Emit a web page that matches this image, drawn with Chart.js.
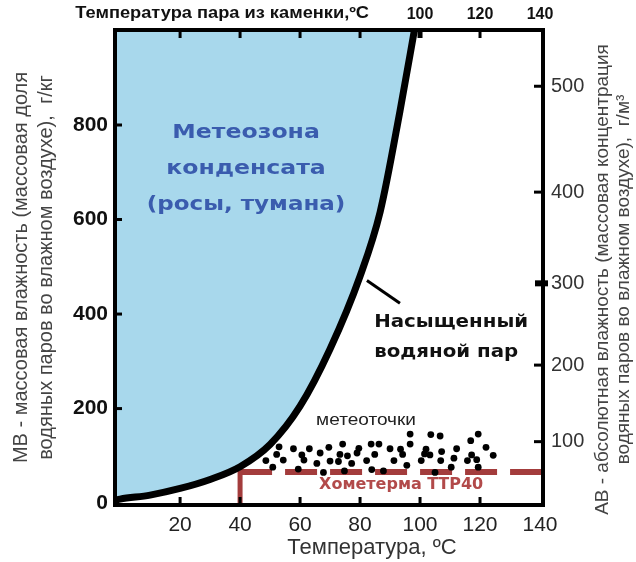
<!DOCTYPE html>
<html>
<head>
<meta charset="utf-8">
<script src="https://cdn.jsdelivr.net/npm/chart.js@4.4.1/dist/chart.umd.min.js"></script>
<style>
  html, body { margin: 0; padding: 0; background: #fff; }
</style>
</head>
<body>
<canvas id="myChart" width="636" height="562"></canvas>
<script>
// saturated water vapour: temperature (°C) -> MV (g/kg)
const curveT  = [-1.7, 0, 10, 20, 30, 40, 50, 60, 70, 80, 86.7, 93.3, 98.3]
const curveMV = [6, 8.5, 17, 31, 50, 77, 124, 205, 326, 480, 616, 829, 1007]

// "метеоточки" (temperature, MV)
const dotT  = [96.7, 103.6, 106.7, 119.4, 116.9, 53, 57.8, 63.1, 69.6, 74.2, 79.6, 83.7, 86.3, 90, 96.7, 102, 107.2, 112.2, 122,
               52.2, 60.6, 66.7, 73.3, 75.8, 84.9, 94.2, 103.3, 117.2, 124.4, 48.6, 54.4, 61.3, 70, 72.8, 77.2, 82.2, 91.3,
               100.4, 106.9, 111.3, 115.8, 118.9, 50.9, 59.4, 65.6, 74.8, 83.9, 87.8, 95.6, 110.4, 119.4, 67.8, 105, 79, 93.5, 101.5]
const dotMV = [146, 145, 142, 146, 132, 119, 115, 115, 118, 125, 116, 125, 125, 115, 125, 114, 109, 115, 118,
               103, 102, 106, 103, 100, 103, 103, 102, 102, 101, 90, 91, 91, 89, 88, 84, 90, 90,
               90, 90, 95, 90, 92, 76, 72, 84, 68, 71, 68, 80, 76, 76, 65, 65, 106, 114, 104]

// isotherm TTP40
const isoT = 40
const isoMV = 66

// axes
const xTicks = [20, 40, 60, 80, 100, 120, 140]
const topLabelled = [100, 120, 140]
const yTicks = [0, 200, 400, 600, 800]
// right axis (АВ, g/m3) is not linear in MV: positions given in MV units
const avLabels = [100, 200, 300, 400, 500]
const avAtMV   = [130, 292, 465, 658, 882]

const X_MIN = -1.7, X_MAX = 141, Y_MIN = -4, Y_MAX = 1001
const FONT = 'Arial, "Liberation Sans", sans-serif'
const WIDE = '"DejaVu Sans", Verdana, sans-serif'

const frame = {
  id: 'frame',
  afterDatasetsDraw(chart) {
    const {ctx, chartArea: a, scales} = chart
    ctx.save()
    ctx.strokeStyle = '#000'
    ctx.lineCap = 'butt'

    function tick(x1, y1, x2, y2, w) {
      ctx.lineWidth = w
      ctx.beginPath(); ctx.moveTo(x1, y1); ctx.lineTo(x2, y2); ctx.stroke()
    }
    // inward ticks
    xTicks.forEach(function(v) {
      if (v >= 140) return
      const px = scales.x.getPixelForValue(v)
      tick(px, a.bottom, px, a.bottom - 8, 3)
      tick(px, a.top, px, a.top + 8, v == 100 ? 5 : 3)
    })
    yTicks.forEach(function(v) {
      if (v == 0) return
      const py = scales.y.getPixelForValue(v)
      tick(a.left, py, a.left + 7, py, 3)
    })
    avAtMV.forEach(function(v, i) {
      const py = scales.y.getPixelForValue(v)
      if (avLabels[i] == 300) tick(a.right + 5, py, a.right - 8, py, 6)
      else tick(a.right, py, a.right - 9, py, 3)
    })

    // frame
    ctx.lineWidth = 4
    ctx.strokeRect(a.left, a.top, a.right - a.left, a.bottom - a.top)

    function note(text, x, y, font, color, align, sx) {
      ctx.save()
      ctx.translate(x, y)
      ctx.scale(sx, 1)
      ctx.font = font
      ctx.fillStyle = color
      ctx.textAlign = align
      ctx.textBaseline = 'middle'
      ctx.fillText(text, 0, 0)
      ctx.restore()
    }
    function dnote(text, T, MV, font, color, align, sx) {
      note(text, scales.x.getPixelForValue(T), scales.y.getPixelForValue(MV), font, color, align, sx)
    }
    const blue = '#3a5cae'
    dnote('Метеозона', 42, 783, 'bold 20px ' + WIDE, blue, 'center', 1.18)
    dnote('конденсата', 42, 707, 'bold 20px ' + WIDE, blue, 'center', 1.18)
    dnote('(росы, тумана)', 42, 631, 'bold 20px ' + WIDE, blue, 'center', 1.15)
    dnote('Насыщенный', 84.7, 383, 'bold 18px ' + WIDE, '#111', 'left', 1.1)
    dnote('водяной пар', 84.7, 320, 'bold 18px ' + WIDE, '#111', 'left', 1.1)
    dnote('метеоточки', 82, 176, '17px ' + FONT, '#222', 'center', 1.12)
    dnote('Хометерма ТТР40', 93.7, 38, 'bold 16px ' + WIDE, '#b24a4a', 'center', 1)

    // top title, same row as the top tick labels
    note('Температура пара из каменки,ºС', scales.x2.getPixelForValue(83), 14, 'bold 16px ' + FONT, '#111', 'right', 1.14)

    // bottom title
    note('Температура, ºС', scales.x.getPixelForValue(84), 548, '22px ' + FONT, '#333', 'center', 1)

    // right title (reads bottom to top like the left one)
    ctx.save()
    ctx.translate(a.right + 60, (a.top + a.bottom) / 2 + 12)
    ctx.rotate(-Math.PI / 2)
    ctx.font = '19px ' + FONT
    ctx.fillStyle = '#444'
    ctx.textAlign = 'center'
    ctx.textBaseline = 'middle'
    ctx.fillText('АВ - абсолютная влажность (массовая концентрация', 0, 0)
    ctx.fillText('водяных паров во влажном воздухе),  г/м³', 0, 21)
    ctx.restore()

    ctx.restore()
  }
}

const ctx = document.getElementById('myChart').getContext('2d')
const chart = new Chart(ctx, {
  type: 'line',
  data: {
    datasets: [{
      label: 'Насыщенный водяной пар',
      data: curveT.map(function(t, i) { return {x: t, y: curveMV[i]} }),
      borderColor: '#000',
      borderWidth: 7,
      pointRadius: 0,
      cubicInterpolationMode: 'monotone',
      fill: 'end',
      backgroundColor: '#a8d8ec'
    }, {
      label: 'pointer',
      data: [{x: 82.3, y: 471}, {x: 93.3, y: 423}],
      borderColor: '#000',
      borderWidth: 3,
      pointRadius: 0,
      fill: false
    }, {
      label: 'метеоточки',
      type: 'scatter',
      data: dotT.map(function(t, i) { return {x: t, y: dotMV[i]} }),
      pointRadius: 3.4,
      pointBorderWidth: 0,
      pointBackgroundColor: '#000',
      showLine: false
    }, {
      label: 'Хометерма ТТР40',
      data: [{x: isoT, y: isoMV}, {x: X_MAX, y: isoMV}],
      borderColor: '#a33c3c',
      borderWidth: 6,
      borderDash: [32, 13],
      pointRadius: 0,
      fill: false
    }, {
      label: 'Хометерма ТТР40 v',
      data: [{x: isoT, y: Y_MIN}, {x: isoT, y: isoMV + 2}],
      borderColor: '#a33c3c',
      borderWidth: 5,
      pointRadius: 0,
      fill: false
    }]
  },
  options: {
    responsive: false,
    animation: false,
    devicePixelRatio: 1,
    layout: { padding: 0 },
    plugins: { legend: { display: false }, tooltip: { enabled: false } },
    scales: {
      x: {
        type: 'linear', position: 'bottom', min: X_MIN, max: X_MAX,
        afterBuildTicks: function(s) { s.ticks = xTicks.map(function(v) { return {value: v} }) },
        afterFit: function(s) { s.height = 57 },
        grid: { display: false, drawTicks: false },
        border: { display: false },
        ticks: { padding: 8, color: '#222', font: { family: FONT, size: 21 } }
      },
      x2: {
        type: 'linear', position: 'top', min: X_MIN, max: X_MAX,
        afterBuildTicks: function(s) { s.ticks = xTicks.map(function(v) { return {value: v} }) },
        afterFit: function(s) { s.height = 30 },
        grid: { display: false, drawTicks: false },
        border: { display: false },
        ticks: {
          padding: 6, color: '#111', font: { family: FONT, size: 16, weight: 'bold' },
          callback: function(v) { return topLabelled.indexOf(v) >= 0 ? String(v) : '' }
        }
      },
      y: {
        type: 'linear', position: 'left', min: Y_MIN, max: Y_MAX,
        afterBuildTicks: function(s) { s.ticks = yTicks.map(function(v) { return {value: v} }) },
        afterFit: function(s) { s.width = 115 },
        grid: { display: false, drawTicks: false },
        border: { display: false },
        ticks: { padding: 7, color: '#111', font: { family: FONT, size: 21, weight: 'bold' } },
        title: {
          display: true, color: '#444', padding: { top: 9, bottom: 0 },
          text: ['МВ - массовая влажность (массовая доля', 'водяных паров во влажном воздухе),  г/кг'],
          font: { family: FONT, size: 20, lineHeight: 1.25 }
        }
      },
      y2: {
        type: 'linear', position: 'right', min: Y_MIN, max: Y_MAX,
        afterBuildTicks: function(s) { s.ticks = avAtMV.map(function(v) { return {value: v} }) },
        afterFit: function(s) { s.width = 93 },
        grid: { display: false, drawTicks: false },
        border: { display: false },
        ticks: {
          padding: 8, color: '#333', font: { family: FONT, size: 20 },
          callback: function(v) { const i = avAtMV.indexOf(v); return i >= 0 ? String(avLabels[i]) : '' }
        }
      }
    }
  },
  plugins: [frame]
})
</script>
</body>
</html>
